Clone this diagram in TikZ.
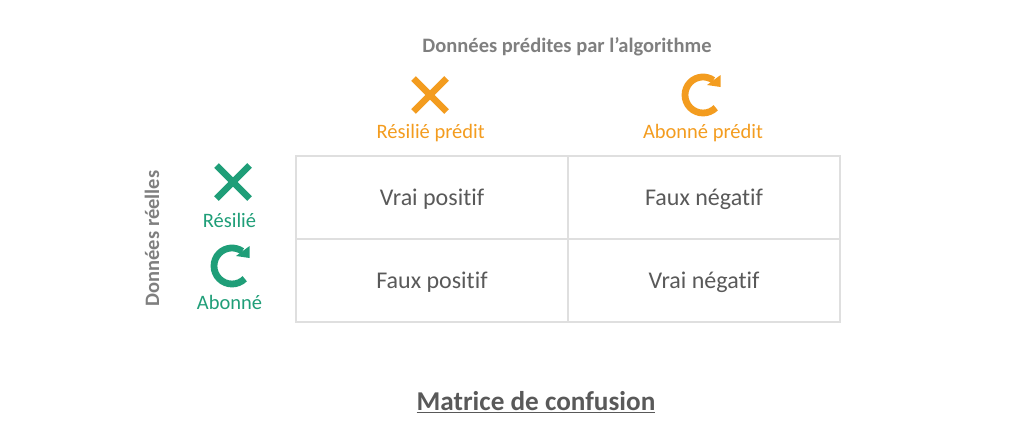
\documentclass[tikz,border=0pt]{standalone}
\usepackage{fontspec}
\setmainfont{Carlito}[Ligatures=NoCommon]
\definecolor{orng}{HTML}{F39C1F}
\definecolor{grn}{HTML}{1F9E78}
\definecolor{hdr}{HTML}{7F7F7F}
\definecolor{celltxt}{HTML}{595959}
\definecolor{gridc}{HTML}{DFDFDF}
\tikzset{
  x=1pt,y=-1pt,
  cell/.style={draw=gridc,line width=1.8pt,minimum width=272pt,minimum height=83pt,inner sep=0pt,text=celltxt,text height=21pt,text depth=5.5pt,font=\fontsize{24}{28}\selectfont},
  hdrtxt/.style={text=hdr,inner sep=0pt,font=\fontsize{20.5}{24}\selectfont\bfseries},
  lab/.style={inner sep=0pt,font=\fontsize{20.5}{24}\selectfont},
  crossicon/.pic={
    \draw[line width=6.6pt] (-16.5,-16.5) -- (16.5,16.5) (-16.5,16.5) -- (16.5,-16.5);
  },
  cycleicon/.pic={
    \begin{scope}[y=1pt]
    \draw[line width=6.8pt] (-45:18) arc[start angle=-45,end angle=-305,radius=18];
    \end{scope}
    \fill (17.6,-20) -- (17.6,-8) -- (4,-10) -- cycle;
  }
}
\begin{document}
\begin{tikzpicture}
\useasboundingbox (0,0) rectangle (1024,434);
\node[cell] (tl) at (432,197.5) {Vrai positif};
\node[cell] (tr) at (704,197.5) {Faux négatif};
\node[cell] (bl) at (432,280.5) {Faux positif};
\node[cell] (br) at (704,280.5) {Vrai négatif};
\node[hdrtxt] (top) at (567,47) {Données prédites par l’algorithme};
\node[hdrtxt,rotate=90] (side) at (152,238.5) {Données réelles};
\node[lab,text=orng] (rp) at (430.7,133) {Résilié prédit};
\node[lab,text=orng] (ap) at (703,133) {Abonné prédit};
\node[lab,text=grn] (r) at (229.5,220) {Résilié};
\node[lab,text=grn] (a) at (229.5,302) {Abonné};
\pic[color=orng] at (430,95) {crossicon};
\pic[color=orng] at (703,95) {cycleicon};
\pic[color=grn] at (233,182) {crossicon};
\pic[color=grn] at (232,266) {cycleicon};
\node[inner sep=0pt,text=celltxt,font=\fontsize{27.2}{32}\selectfont\bfseries] (title) at (536,402) {\underline{Matrice de confusion}};
\end{tikzpicture}
\end{document}
